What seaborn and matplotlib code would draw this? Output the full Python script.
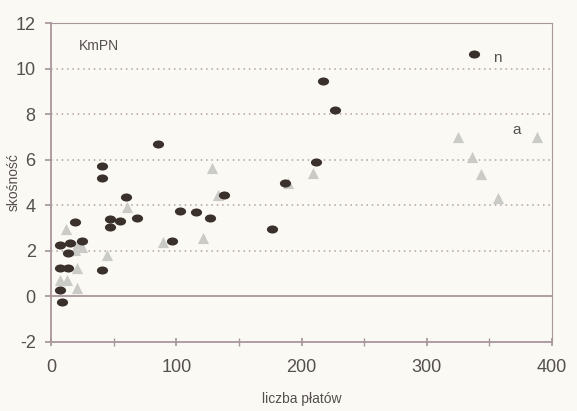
import numpy as np
import pandas as pd
import matplotlib
matplotlib.use("Agg")
import matplotlib.pyplot as plt
from matplotlib.path import Path
from matplotlib.ticker import MultipleLocator
import seaborn as sns

# series "n" (dark ellipses)
n_x = [337.7, 216.9, 226.8, 85.7, 211.3, 186.8, 138.1, 103.0, 115.8, 127.0, 176.2, 96.4,
       40.5, 40.5, 59.9, 19.2, 47.1, 47.1, 55.1, 68.4, 40.5,
       7.2, 15.2, 13.8, 24.5, 7.2, 13.8, 7.2, 8.5]
n_y = [10.63, 9.46, 8.18, 6.68, 5.88, 4.99, 4.45, 3.76, 3.72, 3.43, 2.94, 2.43,
       5.72, 5.18, 4.35, 3.28, 3.39, 3.06, 3.31, 3.45, 1.16,
       2.25, 2.33, 1.89, 2.42, 1.23, 1.23, 0.28, -0.23]
# series "a" (light triangles)
a_x = [388.3, 325.2, 335.9, 343.3, 357.1, 208.9, 128.3, 189.5, 133.6, 121.6, 89.7,
       60.4, 11.7, 21.8, 19.2, 44.4, 20.5, 7.2, 12.5, 20.5, 24.5]
a_y = [7.0, 6.98, 6.1, 5.37, 4.3, 5.43, 5.62, 4.96, 4.45, 2.57, 2.4,
       3.94, 2.94, 2.33, 2.04, 1.82, 1.23, 0.72, 0.72, 0.36, 2.18]

df = pd.DataFrame({
    "x": n_x + a_x,
    "y": n_y + a_y,
    "s": ["n"] * len(n_x) + ["a"] * len(a_x),
})

sns.set_theme(style="white")
plt.rcParams["font.family"] = ["Liberation Sans", "DejaVu Sans"]
plt.rcParams["axes.unicode_minus"] = False

bg = "#fbf9f3"
spine_c = "#a8969c"
txt_c = "#555050"
fig = plt.figure(figsize=(5.77, 4.11), dpi=100, facecolor=bg)
ax = fig.add_axes([0.0884, 0.168, 0.8683, 0.776])
ax.set_facecolor(bg)

circ = Path.unit_circle()
ell = Path(circ.vertices * np.array([1.0, 0.72]), circ.codes)

sns.scatterplot(data=df[df.s == "a"], x="x", y="y", marker="^", color="#cacac6",
                s=65, linewidth=0, ax=ax, legend=False, zorder=3)
sns.scatterplot(data=df[df.s == "n"], x="x", y="y", marker=ell, color="#3a302c",
                s=65, linewidth=0, ax=ax, legend=False, zorder=4)

ax.set_xlim(0, 400)
ax.set_ylim(-2, 12)
ax.xaxis.set_major_locator(MultipleLocator(100))
ax.xaxis.set_minor_locator(MultipleLocator(50))
ax.yaxis.set_major_locator(MultipleLocator(2))

for yv in [2, 4, 6, 8, 10]:
    ax.axhline(yv, color="#b4a0a6", linestyle=(0, (1, 2.5)), linewidth=1.1, zorder=1)
ax.axhline(0, color=spine_c, linewidth=1.3, zorder=2)

for sp in ax.spines.values():
    sp.set_color(spine_c)
    sp.set_linewidth(1.3)
ax.spines["top"].set_linewidth(0.8)
ax.spines["right"].set_linewidth(0.8)

ax.tick_params(axis="x", which="both", direction="inout", length=6, color=spine_c,
               labelsize=13, labelcolor=txt_c, pad=9, bottom=True)
ax.tick_params(axis="y", which="major", direction="out", length=4, color=spine_c,
               labelsize=13, labelcolor=txt_c, pad=7, left=True)

ax.set_xlabel("liczba płatów", fontsize=10, color=txt_c)
ax.set_ylabel("skośność", fontsize=10, color=txt_c)
ax.xaxis.set_label_coords(0.5, -0.158)
ax.yaxis.set_label_coords(-0.06, 0.5)

ax.text(38, 11.0, "KmPN", fontsize=10, color=txt_c, ha="center", va="center")
ax.text(356, 10.45, "n", fontsize=11, color=txt_c, ha="center", va="center")
ax.text(372, 7.3, "a", fontsize=11, color=txt_c, ha="center", va="center")

fig.savefig("out.png", dpi=100, facecolor=bg)
